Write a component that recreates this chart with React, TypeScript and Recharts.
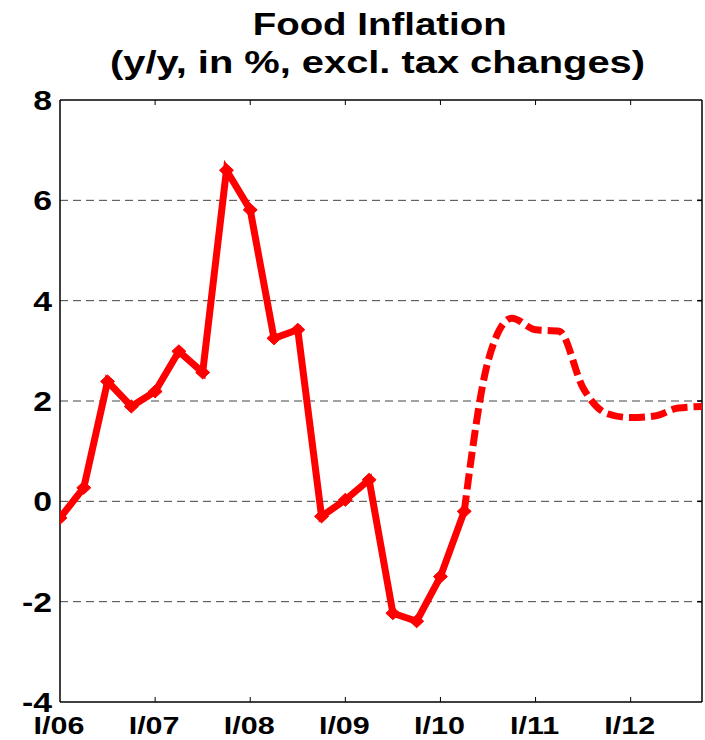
import React from 'react';
import { LineChart, Line, XAxis, YAxis, CartesianGrid, ReferenceLine } from 'recharts';

const quarterLabels = [
  'I/06', 'II/06', 'III/06', 'IV/06',
  'I/07', 'II/07', 'III/07', 'IV/07',
  'I/08', 'II/08', 'III/08', 'IV/08',
  'I/09', 'II/09', 'III/09', 'IV/09',
  'I/10', 'II/10', 'III/10', 'IV/10',
  'I/11', 'II/11', 'III/11', 'IV/11',
  'I/12', 'II/12', 'III/12', 'IV/12',
];

// Actual (solid, with markers): I/06 .. II/10
const actualValues = [
  -0.33, 0.27, 2.39, 1.89, 2.19, 2.99, 2.57, 6.6, 5.81, 3.25, 3.42, -0.3,
  0.03, 0.43, -2.23, -2.39, -1.5, -0.2,
];

// Forecast (dashed): II/10 .. IV/12
const forecastStart = 17;
const forecastValues = [-0.2, 2.79, 3.65, 3.42, 3.39, 2.26, 1.75, 1.67, 1.7, 1.86, 1.89];

const xTicks = [0, 4, 8, 12, 16, 20, 24];
const xTickLabels = ['I/06', 'I/07', 'I/08', 'I/09', 'I/10', 'I/11', 'I/12'];
const yTicks = [-4, -2, 0, 2, 4, 6, 8];
const xDomain: [number, number] = [0, 27];
const yDomain: [number, number] = [-4, 8];

const titleLine1 = 'Food Inflation';
const titleLine2 = '(y/y, in %, excl. tax changes)';

const data = quarterLabels.map((q, i) => ({
  idx: i,
  quarter: q,
  actual: i < actualValues.length ? actualValues[i] : null,
  forecast: i >= forecastStart ? forecastValues[i - forecastStart] : null,
}));

const FONT = '"Liberation Sans", Arial, Helvetica, sans-serif';

const Diamond = (props: any) => {
  const { cx, cy, value } = props;
  if (value == null || cx == null || cy == null) return <g />;
  const w = 7;
  const h = 6.5;
  return (
    <polygon
      points={`${cx - w},${cy} ${cx},${cy - h} ${cx + w},${cy} ${cx},${cy + h}`}
      fill="#ff0000"
      stroke="#ff0000"
      strokeWidth={1}
    />
  );
};

const YTick = (props: any) => {
  const { x, y, payload } = props;
  return (
    <g transform={`translate(${x},${y + 10}) scale(1.25,1)`}>
      <text x={0} y={0} textAnchor="end" fontFamily={FONT} fontWeight="bold" fontSize={27} fill="#000">
        {payload.value}
      </text>
    </g>
  );
};

const XTick = (props: any) => {
  const { x, y, payload } = props;
  const i = xTicks.indexOf(payload.value);
  return (
    <g transform={`translate(${x - 1},${y + 32}) scale(1.27,1)`}>
      <text x={0} y={0} textAnchor="middle" fontFamily={FONT} fontWeight="bold" fontSize={24} fill="#000">
        {i >= 0 ? xTickLabels[i] : ''}
      </text>
    </g>
  );
};

// small inward tick lengths, in data units
const xTickLen = 0.1; // y-units, ~5px
const yTickLen = 0.2; // x-units, ~5px

export default function App() {
  return (
    <div style={{ position: 'absolute', left: 0, top: 0, width: 705, height: 740, background: '#fff' }}>
      <svg width={705} height={100} style={{ position: 'absolute', left: 0, top: 0 }}>
        <text
          x={379.7}
          y={35}
          textAnchor="middle"
          fontFamily={FONT}
          fontWeight="bold"
          fontSize={31}
          textLength={254}
          lengthAdjust="spacingAndGlyphs"
          fill="#000"
        >
          {titleLine1}
        </text>
        <text
          x={377.5}
          y={73}
          textAnchor="middle"
          fontFamily={FONT}
          fontWeight="bold"
          fontSize={31}
          textLength={535}
          lengthAdjust="spacingAndGlyphs"
          fill="#000"
        >
          {titleLine2}
        </text>
      </svg>
      <div style={{ position: 'absolute', left: 0, top: 0 }}>
        <LineChart
          width={705}
          height={740}
          data={data}
          margin={{ top: 100, right: 3, bottom: 0, left: 0 }}
        >
          <CartesianGrid
            vertical={false}
            horizontal={true}
            horizontalValues={[-2, 0, 2, 4, 6]}
            stroke="#444"
            strokeDasharray="8 5"
            strokeWidth={1}
          />
          <XAxis
            dataKey="idx"
            type="number"
            domain={xDomain}
            ticks={xTicks}
            height={38}
            tickLine={false}
            tickSize={0}
            tickMargin={0}
            axisLine={false}
            tick={<XTick />}
            interval={0}
            allowDataOverflow
          />
          <YAxis
            type="number"
            domain={yDomain}
            ticks={yTicks}
            width={60}
            tickLine={false}
            tickSize={0}
            tickMargin={8}
            axisLine={false}
            tick={<YTick />}
            interval={0}
            allowDataOverflow
          />
          {/* frame */}
          <ReferenceLine y={yDomain[1]} stroke="#000" strokeWidth={1.5} />
          <ReferenceLine y={yDomain[0]} stroke="#000" strokeWidth={1.5} />
          <ReferenceLine x={xDomain[0]} stroke="#000" strokeWidth={1.5} />
          <ReferenceLine x={xDomain[1]} stroke="#000" strokeWidth={1.5} />
          {/* inward tick marks */}
          {xTicks.slice(1).map((t) => (
            <ReferenceLine
              key={`bt${t}`}
              segment={[{ x: t, y: yDomain[0] }, { x: t, y: yDomain[0] + xTickLen }]}
              stroke="#000"
              strokeWidth={1}
            />
          ))}
          {xTicks.slice(1).map((t) => (
            <ReferenceLine
              key={`tt${t}`}
              segment={[{ x: t, y: yDomain[1] }, { x: t, y: yDomain[1] - xTickLen }]}
              stroke="#000"
              strokeWidth={1}
            />
          ))}
          {yTicks.slice(1, -1).map((t) => (
            <ReferenceLine
              key={`rt${t}`}
              segment={[{ x: xDomain[1] - yTickLen, y: t }, { x: xDomain[1], y: t }]}
              stroke="#000"
              strokeWidth={1.5}
            />
          ))}
          <Line
            type="monotone"
            dataKey="forecast"
            stroke="#ff0000"
            strokeWidth={7}
            strokeDasharray="16 6"
            dot={false}
            activeDot={false}
            connectNulls={false}
            isAnimationActive={false}
          />
          <Line
            type="linear"
            dataKey="actual"
            stroke="#ff0000"
            strokeWidth={7}
            strokeLinejoin="miter"
            dot={<Diamond />}
            activeDot={false}
            connectNulls={false}
            isAnimationActive={false}
          />
        </LineChart>
      </div>
    </div>
  );
}
